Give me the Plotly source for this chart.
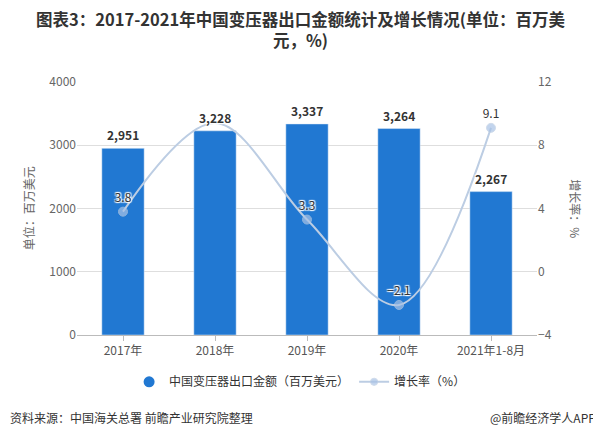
import plotly.graph_objects as go

categories = ["2017年", "2018年", "2019年", "2020年", "2021年1-8月"]
export_values = [2951, 3228, 3337, 3264, 2267]
growth_rates = [3.8, 9.4, 3.3, -2.1, 9.1]
growth_labels = ["3.8", "", "3.3", "−2.1", "9.1"]
left_ticks = [0, 1000, 2000, 3000, 4000]
right_ticks = [-4, 0, 4, 8, 12]

FONT = "Noto Sans CJK SC"
BAR_COLOR = "#2178d2"
LINE_COLOR = "#bccde3"
WHITE_HALO = "1px 1px 1px #fff, -1px -1px 1px #fff, 1px -1px 1px #fff, -1px 1px 1px #fff"

fig = go.Figure()
fig.add_trace(go.Bar(
    x=categories, y=export_values, name="中国变压器出口金额（百万美元）",
    marker_color=BAR_COLOR, width=0.46, showlegend=False,
))
# legend entry with circular symbol for the bar series
fig.add_trace(go.Scatter(
    x=[None], y=[None], mode="markers", name="中国变压器出口金额（百万美元）",
    marker=dict(color=BAR_COLOR, size=11, symbol="circle"),
))
fig.add_trace(go.Scatter(
    x=categories, y=growth_rates, name="增长率（%）", yaxis="y2",
    mode="lines+markers+text", line=dict(color=LINE_COLOR, width=2, shape="spline", smoothing=1.0),
    marker=dict(color="#a9c3e6", size=[9, 0, 9, 9, 9]),
    text=growth_labels, textposition="top center",
    textfont=dict(size=12, color="#333", family=FONT, shadow=WHITE_HALO),
    cliponaxis=False,
))

annotations = [
    dict(text="<b>图表3：2017-2021年中国变压器出口金额统计及增长情况(单位：百万美<br>元，%)</b>",
         xref="paper", yref="paper", x=0.485, y=(335 - 29.5) / 253, xanchor="center", yanchor="middle",
         align="center", showarrow=False, font=dict(size=16.5, color="#333", family=FONT)),
    dict(text="单位：百万美元", textangle=-90, xref="paper", yref="paper", x=-0.105, y=0.5,
         xanchor="center", yanchor="middle", showarrow=False,
         font=dict(size=12, color="#666", family=FONT)),
    dict(text="增长率：%", textangle=90, xref="paper", yref="paper", x=1.083, y=0.5,
         xanchor="center", yanchor="middle", showarrow=False,
         font=dict(size=12, color="#666", family=FONT)),
    dict(text="资料来源：中国海关总署 前瞻产业研究院整理", xref="paper", yref="paper",
         x=-0.15, y=-0.328, xanchor="left", yanchor="middle", showarrow=False,
         font=dict(size=12, color="#333", family=FONT)),
    dict(text="@前瞻经济学人APP", xref="paper", yref="paper",
         x=1.1326, y=-0.328, xanchor="right", yanchor="middle", showarrow=False,
         font=dict(size=12, color="#333", family=FONT)),
]
# bar value labels drawn above the line
for c, v in zip(categories, export_values):
    annotations.append(dict(
        text=f"<b>{v:,}</b>", x=c, y=v, xref="x", yref="y", yanchor="bottom", yshift=3,
        showarrow=False, font=dict(size=12, color="#333", family=FONT, shadow=WHITE_HALO),
    ))

fig.update_layout(
    width=593, height=430,
    margin=dict(l=69, r=64, t=74, b=103, autoexpand=False),
    paper_bgcolor="white", plot_bgcolor="white",
    font=dict(family=FONT, color="#555", size=12),
    showlegend=True,
    legend=dict(orientation="h", x=0.485, xanchor="center", y=-0.185, yanchor="middle",
                font=dict(size=12, color="#333"), itemwidth=30),
    xaxis=dict(showline=True, linecolor="#bbb", ticks="outside", tickcolor="#bbb", ticklen=5,
               tickfont=dict(size=12, color="#555")),
    yaxis=dict(range=[0, 4000], tickvals=left_ticks, gridcolor="#dedede", zeroline=False,
               tickfont=dict(size=12, color="#666")),
    yaxis2=dict(range=[-4, 12], tickvals=right_ticks, overlaying="y", side="right",
                showgrid=False, zeroline=False, tickfont=dict(size=12, color="#666")),
    annotations=annotations,
)

fig.write_html("out.html")
